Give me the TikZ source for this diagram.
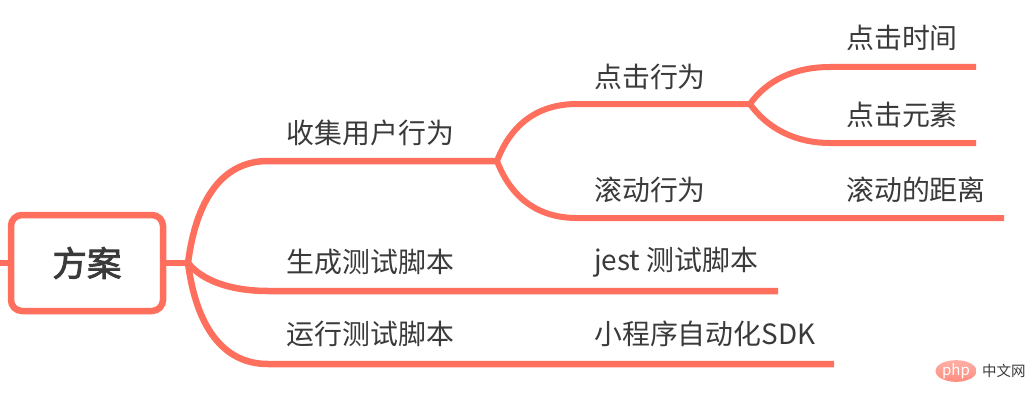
\documentclass[tikz,border=0pt]{standalone}
\usepackage{fontspec}
\usepackage{xcolor}
\usetikzlibrary{shapes.geometric}
\setmainfont{Noto Sans CJK SC}
\newfontfamily\rootfont[FakeBold=2.5]{Noto Sans CJK SC}
\definecolor{branchred}{HTML}{FF6F5E}
\definecolor{inkgray}{HTML}{3A3A3A}
\begin{document}
\begin{tikzpicture}%
  [x=1pt,y=-1pt,line cap=butt]
  \tikzstyle{root node}=[rectangle,draw=branchred,line width=6.5,rounded corners=11,fill=white,
    minimum width=152,minimum height=96,text=inkgray,font=\fontsize{34.5}{35}\rootfont]
  \tikzstyle{topic node}=[anchor=west,inner sep=0,text=inkgray,font=\fontsize{27.9}{28}\selectfont]
  \tikzstyle{branch}=[draw=branchred,line width=6.5]
  \tikzstyle{twig}=[draw=branchred,line width=6]
  \useasboundingbox (0,0) rectangle (1034,404);
  % junctions and line ends
  \coordinate (left) at (0,263);
  \coordinate (j0) at (188,263);
  \coordinate (j1) at (497,161);
  \coordinate (j2) at (750,104);
  \coordinate (a0) at (268,161);
  \coordinate (b0) at (268,291);
  \coordinate (c0) at (268,364);
  \coordinate (b1) at (778,291);
  \coordinate (c1) at (834,364);
  \coordinate (d0) at (577,104);
  \coordinate (e0) at (577,218);
  \coordinate (e1) at (1004,218);
  \coordinate (f0) at (830,67);
  \coordinate (f1) at (976,67);
  \coordinate (g0) at (830,143);
  \coordinate (g1) at (976,143);
  % lines
  \node(root)[root node] at (87,263) {方案};
  \draw[branch] (left) -- (root.west);
  \draw[branch] (root.east) -- (j0);
  \draw[branch] (j0) .. controls (196,200) and (222,161) .. (a0) -- (j1);
  \draw[branch] (j0) .. controls (204,283) and (236,291) .. (b0) -- (b1);
  \draw[branch] (j0) .. controls (196,325) and (222,364) .. (c0) -- (c1);
  \draw[twig] (j1) .. controls (512,122) and (540,104) .. (d0) -- (j2);
  \draw[twig] (j1) .. controls (512,200) and (540,218) .. (e0) -- (e1);
  \draw[twig] (j2) .. controls (767,80) and (795,67) .. (f0) -- (f1);
  \draw[twig] (j2) .. controls (767,128) and (795,143) .. (g0) -- (g1);
  % labels
  \node(collect)[topic node] at (286.5,133) {收集用户行为};
  \node(gen)[topic node] at (286.5,262) {生成测试脚本};
  \node(run)[topic node] at (286.5,334) {运行测试脚本};
  \node(click)[topic node] at (594,77) {点击行为};
  \node(scroll)[topic node] at (594,190) {滚动行为};
  \node(jest)[topic node] at (594,262) {jest 测试脚本};
  \node(sdk)[topic node] at (594,334) {小程序自动化SDK};
  \node(time)[topic node] at (846,38) {点击时间};
  \node(elem)[topic node] at (846,115) {点击元素};
  \node(dist)[topic node] at (846,190) {滚动的距离};
  % watermark
  \node(logo)[ellipse,minimum width=41,minimum height=21,inner sep=0,top color=branchred!55,bottom color=branchred!80,
    text=white,font=\fontsize{15}{15}\selectfont\itshape] at (956,371) {php};
  \node(site)[anchor=west,inner sep=0,text=inkgray,font=\fontsize{14.5}{15}\selectfont] at (982,371) {中文网};
\end{tikzpicture}
\end{document}
